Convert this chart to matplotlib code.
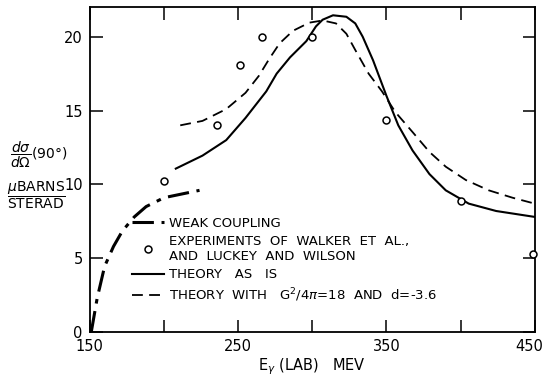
import matplotlib.pyplot as plt
from matplotlib.ticker import FixedLocator
from matplotlib.transforms import ScaledTranslation

# photon energy (MeV) and cross section (microbarns/sterad)
weak_e = [151, 155, 160, 166, 172, 180, 188, 200, 212, 224]
weak_v = [0.0, 2.3, 4.45, 5.8, 6.85, 7.8, 8.5, 9.1, 9.35, 9.6]

exp_e = [200, 236, 251, 266, 300, 350, 400, 449]
exp_v = [10.2, 14.0, 18.1, 20.0, 20.0, 14.35, 8.9, 5.3]

theory_e = [208, 226, 242, 255, 269, 276, 285, 296, 302.5, 307, 314, 323, 329,
            334, 341, 350, 358, 367.6, 379, 390, 405.5, 424, 450]
theory_v = [11.07, 11.95, 13.0, 14.5, 16.3, 17.5, 18.6, 19.7, 20.7, 21.15, 21.45,
            21.35, 20.9, 20.0, 18.4, 16.0, 14.0, 12.3, 10.7, 9.6, 8.7, 8.2, 7.8]

mod_e = [211, 226, 242, 255, 264, 271, 278, 287, 298, 307, 316, 323, 329, 338,
         347, 356, 368, 379, 390, 403.5, 419, 435, 450]
mod_v = [14.0, 14.3, 15.1, 16.2, 17.35, 18.5, 19.55, 20.4, 20.95, 21.1, 20.9,
         20.2, 19.1, 17.5, 16.3, 14.9, 13.5, 12.2, 11.2, 10.3, 9.6, 9.1, 8.7]

x_ticks = [150, 200, 250, 300, 350, 400, 450]
x_labels = ['150', '', '250', '', '350', '', '450']
y_ticks = [0, 5, 10, 15, 20]

plt.rcParams['font.family'] = ['DejaVu Sans']
plt.rcParams['mathtext.fontset'] = 'dejavusans'

fig = plt.figure(figsize=(5.44, 3.77), dpi=100)
ax = fig.add_axes([0.165, 0.119, 0.818, 0.862])

ax.plot(weak_e, weak_v, color='black', lw=2.2, dashes=(7, 2.5, 1.5, 2.5),
        label='WEAK COUPLING')
ax.plot(exp_e, exp_v, linestyle='none', marker='o', markersize=5,
        markerfacecolor='white', markeredgecolor='black', markeredgewidth=1.1,
        clip_on=False, zorder=5,
        label='EXPERIMENTS  OF  WALKER  ET  AL.,\nAND  LUCKEY  AND  WILSON')
ax.plot(theory_e, theory_v, color='black', lw=1.5, label='THEORY   AS   IS')
ax.plot(mod_e, mod_v, color='black', lw=1.3, dashes=(6, 3.5),
        label='THEORY  WITH   G$^2$/4$\\pi$=18  AND  d=-3.6')

ax.set_xlim(150, 450)
ax.set_ylim(0, 22)
ax.xaxis.set_major_locator(FixedLocator(x_ticks))
ax.set_xticklabels(x_labels)
ax.set_yticks(y_ticks)
ax.tick_params(direction='in', length=9, width=1.1, top=True, right=True,
               labelsize=10.5, pad=5)
for s in ax.spines.values():
    s.set_linewidth(1.3)

# keep the last x label inside the picture
last = ax.get_xticklabels()[-1]
last.set_transform(last.get_transform() +
                   ScaledTranslation(-4 / 72, 0, fig.dpi_scale_trans))

ax.set_xlabel('E$_\\gamma$ (LAB)   MEV', fontsize=10.5, labelpad=2)

fig.text(0.018, 0.589, '$\\dfrac{d\\sigma}{d\\Omega}$(90°)', fontsize=10,
         ha='left', va='center')
fig.text(0.012, 0.481, '$\\dfrac{\\mu\\mathrm{BARNS}}{\\mathrm{STERAD}}$',
         fontsize=10, ha='left', va='center')

ax.legend(loc='upper left', bbox_to_anchor=(0.095, 0.355), frameon=False,
          fontsize=9.5, handlelength=2.4, handletextpad=0.4, labelspacing=0.4,
          borderpad=0, borderaxespad=0)

fig.savefig('out.png', dpi=100)
